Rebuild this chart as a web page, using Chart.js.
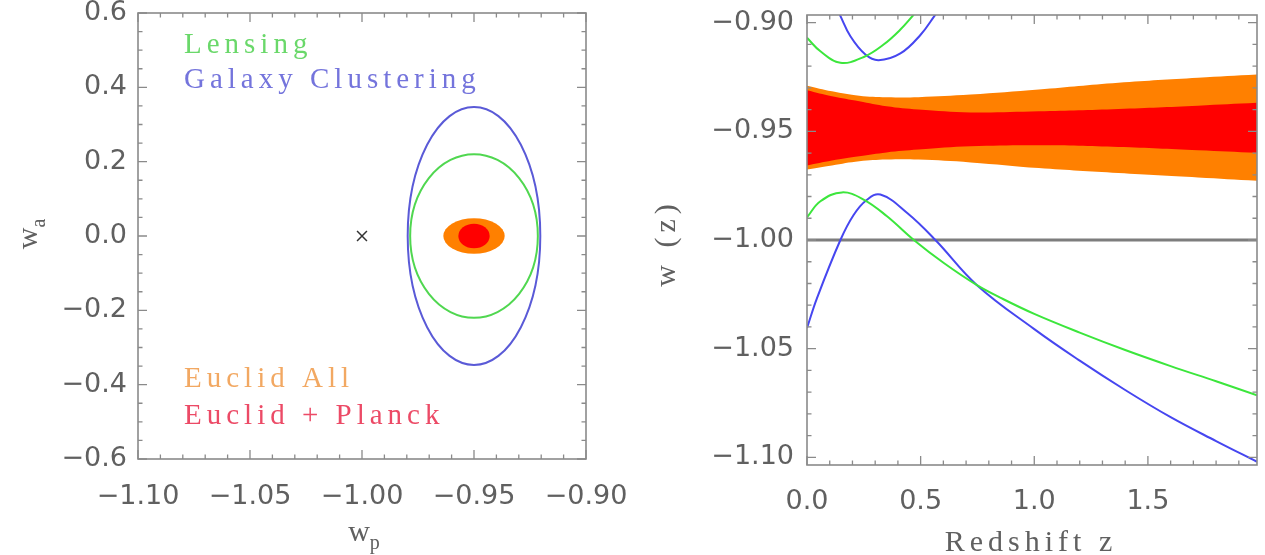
<!DOCTYPE html>
<html lang="en">
<head>
<meta charset="UTF-8">
<title>w0-wa and w(z) constraints</title>
<script src="https://cdn.jsdelivr.net/npm/chart.js"></script>
<style>
  html, body { margin: 0; padding: 0; background: #fff; overflow: hidden; }
  #left  { position: absolute; left: 0;     top: 0; width: 640px; height: 555px; }
  #right { position: absolute; left: 640px; top: 0; width: 625px; height: 555px; }
</style>
</head>
<body>
<div id="left"><canvas id="wpwa"></canvas></div>
<div id="right"><canvas id="wz"></canvas></div>
<script>
// ---------- left panel: (w_p, w_a) contours ----------
var contourNames  = ['Euclid All', 'Euclid + Planck', 'Lensing', 'Galaxy Clustering'];
var contourCentre = [[-0.95, 0.0], [-0.95, 0.0], [-0.95, 0.0], [-0.95, 0.0]];
var contourHalfWp = [0.0137, 0.0070, 0.0285, 0.0296];
var contourHalfWa = [0.048, 0.033, 0.220, 0.347];
var fiducialWp = [-1.00];
var fiducialWa = [0.00];
var wpTicks = [-1.10, -1.05, -1.00, -0.95, -0.90];
var waTicks = [-0.6, -0.4, -0.2, 0.0, 0.2, 0.4, 0.6];

// ---------- right panel: w(z) ----------
var bandZ    = [0, 0.11, 0.23, 0.35, 0.49, 0.72, 1.02, 1.37, 1.72, 1.98];
var allHi    = [-0.9290, -0.9316, -0.9336, -0.9343, -0.9343, -0.9331, -0.9308, -0.9277, -0.9254, -0.9239];
var allLo    = [-0.9676, -0.9657, -0.9638, -0.9630, -0.9630, -0.9643, -0.9669, -0.9692, -0.9712, -0.9727];
var planckHi = [-0.9311, -0.9339, -0.9362, -0.9385, -0.9400, -0.9413, -0.9408, -0.9397, -0.9382, -0.9369];
var planckLo = [-0.9657, -0.9634, -0.9615, -0.9597, -0.9584, -0.9569, -0.9564, -0.9572, -0.9587, -0.9599];

var lensHiZ = [0, 0.059, 0.147, 0.25, 0.337, 0.411, 0.47];
var lensHiW = [-0.9070, -0.9132, -0.9185, -0.9158, -0.9101, -0.9032, -0.8963];
var lensLoZ = [0, 0.059, 0.154, 0.249, 0.352, 0.470, 0.602, 0.748, 0.85, 1.0, 1.2, 1.4, 1.6, 1.8, 1.98];
var lensLoW = [-0.9896, -0.9822, -0.9781, -0.9814, -0.9891, -1.0000, -1.0106, -1.0208, -1.0265, -1.0340,
               -1.0426, -1.0506, -1.0580, -1.0650, -1.0714];
var clusHiZ = [0.144, 0.191, 0.257, 0.315, 0.411, 0.499, 0.565];
var clusHiW = [-0.8963, -0.9063, -0.9147, -0.9173, -0.9142, -0.9057, -0.8963];
var clusLoZ = [0, 0.044, 0.147, 0.205, 0.26, 0.323, 0.441, 0.565, 0.748, 1.0, 1.2, 1.4, 1.6, 1.8, 1.98];
var clusLoW = [-1.0405, -1.0267, -1.0000, -0.9885, -0.9818, -0.9791, -0.9876, -1.0000, -1.0208, -1.0410,
               -1.0555, -1.0690, -1.0815, -1.0925, -1.1020];
var lambdaW = -1.0;
var zTicks = [0.0, 0.5, 1.0, 1.5];
var wTicks = [-1.10, -1.05, -1.00, -0.95, -0.90];

// ---------- styling ----------
var contourColors = ['rgb(255,128,0)', 'rgb(255,0,0)', 'rgb(80,215,80)', 'rgb(90,90,215)'];
var contourFilled = [true, true, false, false];
var axisGrey = '#8a8a8a';
var labelGrey = '#606060';
var tickFont = { family: 'DejaVu Sans', size: 27 };
var serif = '"Liberation Serif", "DejaVu Serif", serif';

function pts(xs, ys) {
  return xs.map(function (x, i) { return { x: x, y: ys[i] }; });
}
function minusSign(s) { return s.replace('-', '\u2212'); }
function fixedTicks(values) {
  return function (scale) {
    scale.ticks = values.map(function (v) { return { value: v }; });
  };
}

// frame with inward major/minor ticks on all four sides
function framePlugin(minorX, minorY) {
  return {
    id: 'frame',
    afterDatasetsDraw: function (chart) {
      var ctx = chart.ctx, a = chart.chartArea;
      var xs = chart.scales.x, ys = chart.scales.y;
      var majorLen = 9, minorLen = 4.5;
      ctx.save();
      ctx.strokeStyle = axisGrey;
      ctx.lineWidth = 1.6;
      ctx.strokeRect(a.left, a.top, a.right - a.left, a.bottom - a.top);
      ctx.lineWidth = 1.3;
      ctx.beginPath();
      function isMajor(v, list) {
        return list.some(function (t) { return Math.abs(t.value - v) < 1e-6; });
      }
      var k, v, p, len;
      for (k = Math.ceil(xs.min / minorX - 1e-6); k * minorX <= xs.max + 1e-9; k++) {
        v = k * minorX;
        p = xs.getPixelForValue(v);
        len = isMajor(v, xs.ticks) ? majorLen : minorLen;
        ctx.moveTo(p, a.bottom); ctx.lineTo(p, a.bottom - len);
        ctx.moveTo(p, a.top); ctx.lineTo(p, a.top + len);
      }
      for (k = Math.ceil(ys.min / minorY - 1e-6); k * minorY <= ys.max + 1e-9; k++) {
        v = k * minorY;
        p = ys.getPixelForValue(v);
        len = isMajor(v, ys.ticks) ? majorLen : minorLen;
        ctx.moveTo(a.left, p); ctx.lineTo(a.left + len, p);
        ctx.moveTo(a.right, p); ctx.lineTo(a.right - len, p);
      }
      ctx.stroke();
      ctx.restore();
    }
  };
}

// text with optional letter spacing, rotation and a subscript
function label(ctx, opts) {
  ctx.save();
  ctx.translate(opts.x, opts.y);
  if (opts.rotate) ctx.rotate(opts.rotate);
  ctx.fillStyle = opts.color;
  ctx.textBaseline = 'alphabetic';
  if ('letterSpacing' in ctx) ctx.letterSpacing = (opts.spacing || 0) + 'px';
  ctx.font = opts.size + 'px ' + serif;
  var w1 = ctx.measureText(opts.text).width;
  var w2 = 0;
  if (opts.sub) {
    ctx.font = opts.subSize + 'px ' + serif;
    w2 = ctx.measureText(opts.sub).width;
  }
  var x0 = opts.align === 'left' ? 0 : -(w1 + w2) / 2;
  ctx.font = opts.size + 'px ' + serif;
  ctx.fillText(opts.text, x0, 0);
  if (opts.sub) {
    ctx.font = opts.subSize + 'px ' + serif;
    ctx.fillText(opts.sub, x0 + w1, opts.subDrop);
  }
  ctx.restore();
}

var contourPlugin = {
  id: 'contours',
  beforeDatasetsDraw: function (chart) {
    var ctx = chart.ctx, a = chart.chartArea;
    var xs = chart.scales.x, ys = chart.scales.y;
    ctx.save();
    ctx.beginPath();
    ctx.rect(a.left, a.top, a.right - a.left, a.bottom - a.top);
    ctx.clip();
    contourNames.forEach(function (name, i) {
      var c = contourCentre[i];
      var cx = xs.getPixelForValue(c[0]);
      var cy = ys.getPixelForValue(c[1]);
      var rx = Math.abs(xs.getPixelForValue(c[0] + contourHalfWp[i]) - cx);
      var ry = Math.abs(ys.getPixelForValue(c[1] + contourHalfWa[i]) - cy);
      ctx.beginPath();
      ctx.ellipse(cx, cy, rx, ry, 0, 0, 2 * Math.PI);
      if (contourFilled[i]) {
        ctx.fillStyle = contourColors[i];
        ctx.fill();
      } else {
        ctx.strokeStyle = contourColors[i];
        ctx.lineWidth = 2;
        ctx.stroke();
      }
    });
    ctx.restore();
  },
  afterDraw: function (chart) {
    var ctx = chart.ctx;
    // legend text, top and bottom left
    label(ctx, { text: 'Lensing', x: 184, y: 53, size: 29, spacing: 5, color: '#6ad86a', align: 'left' });
    label(ctx, { text: 'Galaxy Clustering', x: 184, y: 88, size: 29, spacing: 5, color: '#7474dc', align: 'left' });
    label(ctx, { text: 'Euclid All', x: 184, y: 387, size: 29, spacing: 5, color: '#f2a862', align: 'left' });
    label(ctx, { text: 'Euclid + Planck', x: 184, y: 424, size: 29, spacing: 5, color: '#ec4a66', align: 'left' });
    // axis titles
    label(ctx, { text: 'w', sub: 'p', x: 364, y: 541, size: 30, subSize: 20, subDrop: 8, color: labelGrey });
    label(ctx, { text: 'w', sub: 'a', x: 37, y: 234, rotate: -Math.PI / 2, size: 30, subSize: 20, subDrop: 8, color: labelGrey });
  }
};

var wzTitles = {
  id: 'wzTitles',
  afterDraw: function (chart) {
    var ctx = chart.ctx;
    label(ctx, { text: 'Redshift z', x: 391, y: 551, size: 30, spacing: 5, color: labelGrey });
    label(ctx, { text: 'w (z)', x: 35, y: 243, rotate: -Math.PI / 2, size: 30, spacing: 5, color: labelGrey });
  }
};

Chart.defaults.animation = false;
Chart.defaults.font.family = 'DejaVu Sans';

new Chart(document.getElementById('wpwa'), {
  type: 'scatter',
  data: {
    datasets: [{
      data: pts(fiducialWp, fiducialWa),
      pointStyle: 'crossRot',
      pointRadius: 7,
      borderColor: '#333',
      borderWidth: 1.5
    }]
  },
  options: {
    responsive: true,
    maintainAspectRatio: false,
    layout: { padding: { left: 0, top: 13, right: 54, bottom: 0 } },
    plugins: { legend: { display: false }, tooltip: { enabled: false } },
    scales: {
      x: {
        min: -1.10, max: -0.90,
        afterBuildTicks: fixedTicks(wpTicks),
        afterFit: function (s) { s.height = 96; s.paddingLeft = 0; s.paddingRight = 0; },
        grid: { display: false, drawTicks: false },
        border: { display: false },
        ticks: {
          padding: 22, color: labelGrey, font: tickFont, maxRotation: 0, autoSkip: false,
          callback: function (v) { return minusSign(v.toFixed(2)); }
        }
      },
      y: {
        min: -0.6, max: 0.6,
        afterBuildTicks: fixedTicks(waTicks),
        afterFit: function (s) { s.width = 138; s.paddingTop = 0; s.paddingBottom = 0; },
        grid: { display: false, drawTicks: false },
        border: { display: false },
        ticks: {
          padding: 11, color: labelGrey, font: tickFont, autoSkip: false,
          callback: function (v) { return minusSign(v.toFixed(1)); }
        }
      }
    }
  },
  plugins: [contourPlugin, framePlugin(0.01, 0.05)]
});

function curve(z, w, color, order) {
  return {
    data: pts(z, w), showLine: true, pointRadius: 0, borderColor: color,
    borderWidth: 2, tension: 0.4, fill: false, clip: 0, order: order
  };
}
function bandEdge(z, w, color, fillTo, order) {
  return {
    data: pts(z, w), showLine: true, pointRadius: 0, borderWidth: 0,
    borderColor: color, backgroundColor: color,
    tension: 0.4, fill: fillTo, clip: 0, order: order
  };
}

new Chart(document.getElementById('wz'), {
  type: 'scatter',
  data: {
    datasets: [
      bandEdge(bandZ, allHi, 'rgb(255,128,0)', '+1', 5),
      bandEdge(bandZ, allLo, 'rgb(255,128,0)', false, 5),
      bandEdge(bandZ, planckHi, 'rgb(255,0,0)', '+1', 4),
      bandEdge(bandZ, planckLo, 'rgb(255,0,0)', false, 4),
      {
        data: [{ x: 0, y: lambdaW }, { x: bandZ[bandZ.length - 1], y: lambdaW }],
        showLine: true, pointRadius: 0, borderColor: '#7d7d7d', borderWidth: 3, clip: 0, order: 3
      },
      curve(lensHiZ, lensHiW, 'rgb(60,230,60)', 1),
      curve(lensLoZ, lensLoW, 'rgb(60,230,60)', 1),
      curve(clusHiZ, clusHiW, 'rgb(70,70,240)', 1),
      curve(clusLoZ, clusLoW, 'rgb(70,70,240)', 1)
    ]
  },
  options: {
    responsive: true,
    maintainAspectRatio: false,
    layout: { padding: { left: 0, top: 15, right: 8, bottom: 0 } },
    plugins: { legend: { display: false }, tooltip: { enabled: false } },
    scales: {
      x: {
        min: 0, max: 1.98,
        afterBuildTicks: fixedTicks(zTicks),
        afterFit: function (s) { s.height = 90; s.paddingLeft = 0; s.paddingRight = 0; },
        grid: { display: false, drawTicks: false },
        border: { display: false },
        ticks: {
          padding: 21, color: labelGrey, font: tickFont, maxRotation: 0, autoSkip: false,
          callback: function (v) { return v.toFixed(1); }
        }
      },
      y: {
        min: -1.1035, max: -0.8965,
        afterBuildTicks: fixedTicks(wTicks),
        afterFit: function (s) { s.width = 167; s.paddingTop = 0; s.paddingBottom = 0; },
        grid: { display: false, drawTicks: false },
        border: { display: false },
        ticks: {
          padding: 13, color: labelGrey, font: tickFont, autoSkip: false,
          callback: function (v) { return minusSign(v.toFixed(2)); }
        }
      }
    }
  },
  plugins: [wzTitles, framePlugin(0.1, 0.01)]
});
</script>
</body>
</html>
